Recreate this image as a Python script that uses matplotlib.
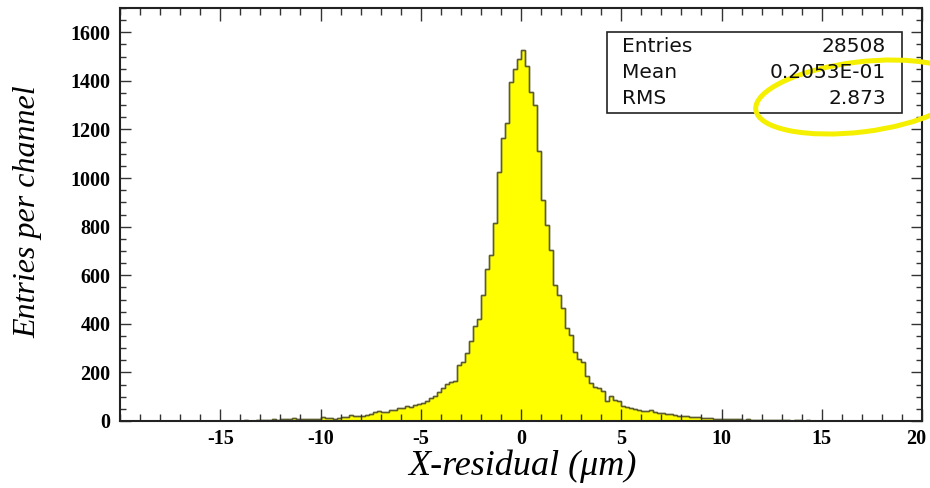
import matplotlib
matplotlib.use('Agg')
import matplotlib.pyplot as plt
from matplotlib.patches import Ellipse
from matplotlib.ticker import MultipleLocator
import numpy as np

plt.rcParams['axes.unicode_minus'] = False

# Histogram: 200 channels of 0.2 um from -20 to 20 (counts)
x_min, x_max, n_bins = -20.0, 20.0, 200

# -20 .. -5
left_tail = [0, 0, 0, 1, 0, 0, 1, 0, 0, 0,
             1, 0, 1, 0, 0, 1, 0, 1, 1, 0,
             1, 0, 2, 1, 1, 0, 2, 1, 2, 1,
             2, 3, 1, 2, 3,
             3, 4, 6, 7, 6,
             10, 9, 7, 11, 10,
             8, 9, 8, 7, 9,
             18, 12, 11, 10, 14,
             16, 17, 23, 22, 20,
             21, 26, 30, 36, 40,
             38, 37, 44, 46, 52,
             55, 60, 58, 64, 68]
# -5 .. 5
core = [73, 82, 93, 103, 121, 134, 152, 159, 164, 230,
        241, 281, 329, 391, 418, 518, 624, 685, 813, 1025,
        1163, 1225, 1396, 1447, 1492,
        1529, 1460, 1355, 1300, 1110, 909, 806, 703, 559, 518,
        464, 381, 354, 285, 254, 244, 185, 155, 141, 134,
        125, 84, 102, 88, 84]
# 5 .. 20
right_tail = [62, 58, 52, 48, 47,
              42, 40, 44, 36, 33,
              31, 30, 28, 24, 22,
              21, 19, 18, 18, 16,
              13, 12, 12, 10, 10,
              9, 10, 8, 7, 8,
              6, 7, 5, 6, 5,
              5, 4, 5, 3, 4,
              3, 4, 2, 3, 3,
              2, 3, 2, 2, 1,
              2, 1, 1, 2, 1, 1, 0, 1, 1, 0,
              1, 1, 0, 0, 1, 0, 1, 0, 0, 1,
              0, 0, 1, 0, 0]

counts = np.array(left_tail + core + right_tail)
edges = np.linspace(x_min, x_max, n_bins + 1)

x_ticks = [-15, -10, -5, 0, 5, 10, 15, 20]
y_ticks = [0, 200, 400, 600, 800, 1000, 1200, 1400, 1600]

stat_names = ['Entries', 'Mean', 'RMS']
stat_values = ['28508', '0.2053E-01', '2.873']

fig = plt.figure(figsize=(9.3, 4.88), dpi=100)
ax = fig.add_axes([120 / 930, 1 - 421 / 488, 802 / 930, 413 / 488])

ax.stairs(counts, edges, fill=True, facecolor='#ffff00', edgecolor='#5c5c30',
          linewidth=1.0)
ax.stairs(counts, edges, color='#5c5c30', linewidth=1.0)

ax.set_xlim(x_min, x_max)
ax.set_ylim(0, 1700)
ax.set_xticks(x_ticks)
ax.set_yticks(y_ticks)
ax.xaxis.set_minor_locator(MultipleLocator(1))
ax.yaxis.set_minor_locator(MultipleLocator(50))

tick_font = {'family': 'Liberation Serif', 'weight': 'bold', 'size': 14.5}
# the last x label sits right at the picture edge: draw it a touch further in
x_labels = [str(t) for t in x_ticks[:-1]] + ['']
ax.set_xticklabels(x_labels, fontdict=tick_font)
ax.set_yticklabels([str(t) for t in y_ticks], fontdict=tick_font)
ax.annotate(str(x_ticks[-1]), xy=(x_ticks[-1], 0), xycoords=('data', 'axes fraction'),
            xytext=(-4, -6), textcoords='offset points', ha='center', va='top',
            **tick_font)

ax.tick_params(which='both', direction='in', top=True, right=True, color='#333333')
ax.tick_params(axis='x', which='major', length=9, width=1.0, pad=6)
ax.tick_params(axis='x', which='minor', length=5, width=1.0)
ax.tick_params(axis='y', which='major', length=8, width=1.0, pad=7)
ax.tick_params(axis='y', which='minor', length=4.5, width=1.0)
for s in ax.spines.values():
    s.set_linewidth(1.5)
    s.set_color('#222222')

# axis titles
fig.text(522 / 930, 1 - 466 / 488, 'X-residual (μm)', family='Liberation Serif',
         style='italic', fontsize=26, ha='center', va='center')
fig.text(28 / 930, 1 - 212 / 488, 'Entries per channel', family='Liberation Serif',
         style='italic', fontsize=23, ha='center', va='center', rotation=90)

# overlay in pixel units for the stats box and the hand-drawn ring
ov = fig.add_axes([0, 0, 1, 1])
ov.set_xlim(0, 930)
ov.set_ylim(488, 0)
ov.axis('off')

ov.add_patch(plt.Rectangle((607, 32), 295, 81, facecolor='white',
                           edgecolor='#222222', linewidth=1.2))
for i, (name, val) in enumerate(zip(stat_names, stat_values)):
    yy = 46 + i * 26.5
    ov.text(622, yy, name, family='DejaVu Sans', fontsize=14.5, ha='left',
            va='center', color='#111111')
    ov.text(886, yy, val, family='DejaVu Sans', fontsize=14.5, ha='right',
            va='center', color='#111111')

ov.add_patch(Ellipse((860, 97), 210, 70, angle=-7, fill=False,
                     edgecolor='#f5f000', linewidth=3.6, clip_on=False))

fig.savefig('out.png', dpi=100)
